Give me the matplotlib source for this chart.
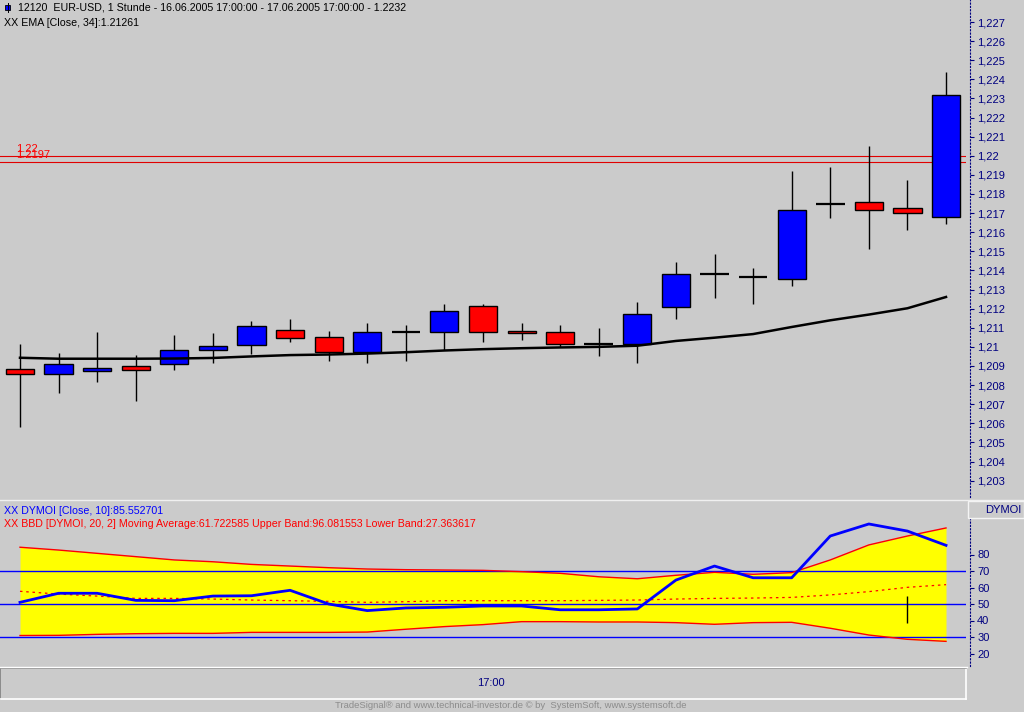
import matplotlib
matplotlib.use("Agg")
import matplotlib.pyplot as plt
import numpy as np
from matplotlib.patches import Rectangle
from matplotlib.lines import Line2D
from matplotlib.ticker import FuncFormatter, FixedLocator

# EUR-USD hourly candles, 16.06.2005 17:00 -> 17.06.2005 17:00
opens = [1.20883, 1.20860, 1.20872, 1.20898, 1.20909, 1.20982, 1.21008, 1.21087, 1.21050,
         1.20972, 1.21078, 1.21076, 1.21212, 1.21081, 1.21076, 1.21017, 1.21013, 1.21207,
         1.21383, 1.21364, 1.21354, 1.21746, 1.21757, 1.21725, 1.21678]
highs = [1.21015, 1.20968, 1.21078, 1.20957, 1.21062, 1.21073, 1.21135, 1.21146, 1.21083,
         1.21125, 1.21114, 1.21224, 1.21223, 1.21125, 1.21114, 1.21099, 1.21235, 1.21444,
         1.21486, 1.21413, 1.21920, 1.21941, 1.22051, 1.21873, 1.22438]
lows = [1.20582, 1.20760, 1.20818, 1.20718, 1.20881, 1.20917, 1.20964, 1.21025, 1.20928,
        1.20917, 1.20928, 1.20984, 1.21024, 1.21036, 1.20998, 1.20954, 1.20917, 1.21147,
        1.21257, 1.21226, 1.21320, 1.21676, 1.21514, 1.21613, 1.21645]
closes = [1.20856, 1.20909, 1.20888, 1.20881, 1.20982, 1.21003, 1.21108, 1.21045, 1.20975,
          1.21076, 1.21078, 1.21186, 1.21079, 1.21071, 1.21013, 1.21017, 1.21170, 1.21380,
          1.21383, 1.21364, 1.21715, 1.21746, 1.21715, 1.21699, 1.22320]
ema34 = [1.20943, 1.20938, 1.20938, 1.20938, 1.20939, 1.20942, 1.20950, 1.20957, 1.20960,
         1.20965, 1.20972, 1.20981, 1.20988, 1.20993, 1.20997, 1.21000, 1.21006, 1.21031,
         1.21048, 1.21067, 1.21104, 1.21139, 1.21169, 1.21202, 1.21261]
levels = [1.22, 1.2197]
level_labels = ["1.22", "1.2197"]
price_ticks = [1.203 + 0.001 * i for i in range(25)]

# DYMOI + Bollinger bands
dymoi = [51.0, 56.5, 56.5, 52.2, 52.0, 54.8, 55.0, 58.3, 50.0, 46.0, 47.6, 48.0, 48.8,
         48.8, 46.5, 46.5, 47.0, 64.5, 73.0, 65.9, 65.9, 91.2, 98.5, 94.2, 85.55]
bb_mid = [57.7, 56.0, 54.8, 53.4, 53.4, 53.0, 52.4, 52.0, 51.6, 51.0, 51.4, 52.0, 52.0,
          52.0, 52.0, 52.2, 52.4, 53.0, 53.4, 53.6, 54.0, 55.5, 57.5, 60.1, 61.72]
bb_upper = [84.4, 82.7, 80.7, 78.7, 76.7, 75.6, 74.0, 73.0, 72.0, 71.2, 70.8, 70.6, 70.4,
            69.6, 68.6, 66.5, 65.3, 67.4, 69.2, 68.0, 69.0, 76.7, 85.8, 91.2, 96.08]
bb_lower = [30.9, 31.0, 31.6, 32.0, 32.2, 32.2, 32.8, 32.8, 32.8, 33.0, 34.7, 36.3, 37.5,
            39.3, 39.3, 39.1, 39.1, 38.7, 37.7, 38.7, 38.9, 35.3, 31.2, 28.6, 27.36]
ind_levels = [70, 50, 30]
ind_ticks = [20, 30, 40, 50, 60, 70, 80]
marker_bar = 23
marker_range = (38.7, 54.8)

BG = "#cbcbcb"
NAVY = "#000080"
W, H = 1024, 712


def fx(px):
    return px / W


def fy(py):
    return 1 - py / H


def style_right_axis(ax, ticks, fmt):
    for side in ["left", "top", "bottom"]:
        ax.spines[side].set_visible(False)
    sp = ax.spines["right"]
    sp.set_position(("outward", 3))
    sp.set_linestyle((0, (1, 2)))
    sp.set_color(NAVY)
    sp.set_linewidth(0.8)
    ax.yaxis.tick_right()
    ax.yaxis.set_major_locator(FixedLocator(ticks))
    ax.yaxis.set_major_formatter(FuncFormatter(fmt))
    ax.tick_params(axis="y", length=3, width=0.8, color=NAVY, labelcolor=NAVY,
                   labelsize=8, pad=2)
    ax.set_xticks([])


plt.rcParams["font.family"] = ["Liberation Sans", "DejaVu Sans"]
fig = plt.figure(figsize=(10.24, 7.12), dpi=100, facecolor=BG)

# ---- price panel ----
k = 19110.0
ax = fig.add_axes([0, fy(497), fx(966), 497 / H], facecolor=BG)
x = np.arange(len(opens))
ax.set_xlim(-0.518, len(opens) - 1 + 0.518)
ax.set_ylim(1.227 - 475 / k, 1.227 + 22 / k)

ax.vlines(x, lows, highs, color="black", lw=1.0, zorder=2)
for i in range(len(opens)):
    o, c = opens[i], closes[i]
    if abs(c - o) < 1e-9:
        ax.hlines(o, i - 0.37, i + 0.37, color="black", lw=1.6, zorder=3)
    else:
        col = "#0000ff" if c > o else "#ff0000"
        ax.bar(i, abs(c - o), bottom=min(o, c), width=0.73, color=col,
               edgecolor="black", lw=1.0, zorder=3)
ax.plot(x, ema34, color="black", lw=1.8, zorder=4)

for lv, lab in zip(levels, level_labels):
    ax.axhline(lv, color="#e00000", lw=0.8, zorder=1)
    ax.annotate(lab, xy=(0, lv), xycoords=("axes fraction", "data"), xytext=(16, 2),
                textcoords="offset pixels", va="bottom", ha="left", color="red", fontsize=8)

style_right_axis(ax, price_ticks, lambda v, p: f"{v:.3f}".rstrip("0").replace(".", ","))

# ---- indicator panel ----
ax2 = fig.add_axes([0, fy(666), fx(966), (666 - 502) / H], facecolor=BG)
ax2.set_xlim(-0.518, len(opens) - 1 + 0.518)
ax2.set_ylim(50 - 62 / 1.65, 50 + 102 / 1.65)
ax2.fill_between(x, bb_lower, bb_upper, color="#ffff00", lw=0, zorder=1)
for lv in ind_levels:
    ax2.axhline(lv, color="#0000ff", lw=1.0, zorder=2)
ax2.plot(x, bb_upper, color="red", lw=1.0, zorder=3)
ax2.plot(x, bb_lower, color="red", lw=1.0, zorder=3)
ax2.plot(x, bb_mid, color="red", lw=0.9, ls=(0, (2, 3)), zorder=3)
ax2.plot(x, dymoi, color="#0000ff", lw=2.0, zorder=4)
ax2.vlines(marker_bar, marker_range[0], marker_range[1], color="black", lw=1.0, zorder=5)
style_right_axis(ax2, ind_ticks, lambda v, p: f"{v:.0f}")
ax2.spines["right"].set_bounds(12.5, 101.5)

# ---- time axis box ----
ax3 = fig.add_axes([0, fy(699), fx(966), 31 / H], facecolor=BG)
ax3.set_xticks([])
ax3.set_yticks([])
for side in ["top", "left"]:
    ax3.spines[side].set_color("#808080")
for side in ["bottom", "right"]:
    ax3.spines[side].set_color("white")
for sp in ax3.spines.values():
    sp.set_linewidth(1.2)
ax3.text(491 / 966, 0.5, "17:00", transform=ax3.transAxes, ha="center", va="center",
         color=NAVY, fontsize=8)

# ---- separators, header box ----
fig.add_artist(Line2D([0, 1], [fy(499.5), fy(499.5)], color="#f0f0f0", lw=1.0))
fig.add_artist(Line2D([0, fx(967)], [fy(666.5), fy(666.5)], color="white", lw=1.0))
fig.add_artist(Rectangle((fx(967.5), fy(518)), fx(56), 17 / H, facecolor=BG,
                         edgecolor="#f4f4f4", lw=1.0))
fig.text(fx(1021), fy(510), "DYMOI", ha="right", va="center", color=NAVY, fontsize=8)

# ---- texts ----
fig.add_artist(Rectangle((fx(5), fy(10)), fx(5), 5 / H, facecolor="#0000ff",
                         edgecolor="black", lw=0.6))
fig.add_artist(Line2D([fx(7.5), fx(7.5)], [fy(12), fy(3)], color="black", lw=0.7))
fig.text(fx(18), fy(8), "12120  EUR-USD, 1 Stunde - 16.06.2005 17:00:00 - 17.06.2005 17:00:00 - 1.2232",
         ha="left", va="center", fontsize=7.7, color="black")
fig.text(fx(4), fy(23), "XX EMA [Close, 34]:1.21261", ha="left", va="center", fontsize=7.7,
         color="black")
fig.text(fx(4), fy(511), "XX DYMOI [Close, 10]:85.552701", ha="left", va="center",
         fontsize=7.7, color="#0000ff")
fig.text(fx(4), fy(524), "XX BBD [DYMOI, 20, 2] Moving Average:61.722585 Upper Band:96.081553 "
         "Lower Band:27.363617", ha="left", va="center", fontsize=7.7, color="red")
fig.text(fx(511), fy(705.5), "TradeSignal\u00ae and www.technical-investor.de \u00a9 by  SystemSoft, "
         "www.systemsoft.de", ha="center", va="center", fontsize=6.8, color="#8c8c8c")

fig.savefig("out.png", dpi=100, facecolor=BG)
